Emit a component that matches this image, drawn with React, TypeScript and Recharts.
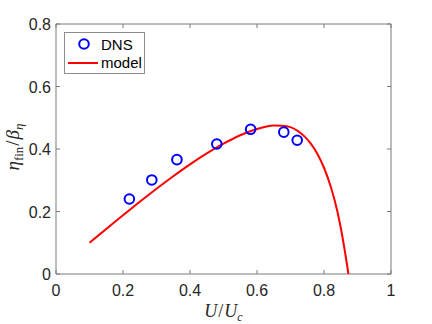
import React from "react";
import {
	ComposedChart,
	Line,
	Scatter,
	XAxis,
	YAxis,
	ReferenceArea,
	Legend,
} from "recharts";

// DNS points
const dnsX = [0.219, 0.286, 0.361, 0.48, 0.581, 0.68, 0.72];
const dnsY = [0.24, 0.301, 0.366, 0.416, 0.463, 0.454, 0.428];

// model curve
const modelX = [
	0.1, 0.15, 0.2, 0.25, 0.3, 0.35, 0.4, 0.45, 0.5, 0.55, 0.6, 0.625, 0.65,
	0.675, 0.7, 0.72, 0.74, 0.76, 0.78, 0.8, 0.82, 0.84, 0.85, 0.86, 0.873,
];
const modelY = [
	0.1, 0.144, 0.188, 0.231, 0.273, 0.313, 0.351, 0.386, 0.417, 0.444, 0.464,
	0.471, 0.475, 0.4745, 0.47, 0.459, 0.442, 0.418, 0.385, 0.34, 0.28, 0.2,
	0.148, 0.088, 0,
];

const xTicks = [0, 0.2, 0.4, 0.6, 0.8, 1];
const yTicks = [0, 0.2, 0.4, 0.6, 0.8];

const dnsData = dnsX.map((x, i) => ({ x, y: dnsY[i] }));
const modelData = modelX.map((x, i) => ({ x, y: modelY[i] }));

const W = 432;
const H = 324;
const LEFT = 56;
const RIGHT = 391;
const TOP = 24;
const BOTTOM = 274;
const AXIS = "#7a7a7a";
const TEXT = "#262626";
const TICK_FONT = "'Liberation Sans', Arial, sans-serif";
const MATH_FONT = "'Liberation Serif', 'DejaVu Serif', serif";

const XTick = (props: any) => {
	const { x, payload } = props;
	return (
		<g>
			<line x1={x} x2={x} y1={BOTTOM} y2={BOTTOM - 4} stroke={AXIS} />
			<line x1={x} x2={x} y1={TOP} y2={TOP + 4} stroke={AXIS} />
			<text
				x={x}
				y={296}
				textAnchor="middle"
				fontFamily={TICK_FONT}
				fontSize={16}
				fill={TEXT}
			>
				{payload.value}
			</text>
		</g>
	);
};

const YTick = (props: any) => {
	const { y, payload } = props;
	return (
		<g>
			<line x1={LEFT} x2={LEFT + 4} y1={y} y2={y} stroke={AXIS} />
			<line x1={RIGHT} x2={RIGHT - 4} y1={y} y2={y} stroke={AXIS} />
			<text
				x={51}
				y={y + 6}
				textAnchor="end"
				fontFamily={TICK_FONT}
				fontSize={16}
				fill={TEXT}
			>
				{payload.value}
			</text>
		</g>
	);
};

const XLabel = () => (
	<text
		x={(LEFT + RIGHT) / 2}
		y={317}
		textAnchor="middle"
		fontFamily={MATH_FONT}
		fontSize={18}
		fill={TEXT}
	>
		<tspan fontStyle="italic">U</tspan>
		<tspan dx={1}>/</tspan>
		<tspan fontStyle="italic" dx={1}>U</tspan>
		<tspan fontStyle="italic" fontSize={12} dy={4}>
			c
		</tspan>
	</text>
);

const YLabel = () => (
	<text
		transform={`translate(19,${(TOP + BOTTOM) / 2 - 2}) rotate(-90)`}
		textAnchor="middle"
		fontFamily={MATH_FONT}
		fontSize={19}
		fill={TEXT}
	>
		<tspan fontStyle="italic">η</tspan>
		<tspan fontSize={13} dy={4} style={{ fontVariantLigatures: "none" }}>
			fin
		</tspan>
		<tspan dy={-4} dx={1}>/</tspan>
		<tspan fontStyle="italic" dx={1}>β</tspan>
		<tspan fontStyle="italic" fontSize={13} dy={4}>
			η
		</tspan>
	</text>
);

const Ring = (props: any) => {
	const { cx, cy } = props;
	return <circle cx={cx} cy={cy} r={4.8} fill="none" stroke="#0000ff" strokeWidth={2} />;
};

const LegendBox = () => (
	<div
		style={{
			width: 81,
			height: 42,
			boxSizing: "border-box",
			border: "1px solid #8c8c8c",
			background: "#fff",
		}}
	>
		<svg width={79} height={40} style={{ display: "block" }}>
			<circle cx={19} cy={11} r={4.8} fill="none" stroke="#0000ff" strokeWidth={2} />
			<text x={36} y={17} fontFamily={TICK_FONT} fontSize={15} fill="#000">
				DNS
			</text>
			<line x1={3} x2={33} y1={30} y2={30} stroke="#ff0000" strokeWidth={2} />
			<text x={36} y={35} fontFamily={TICK_FONT} fontSize={15} fill="#000">
				model
			</text>
		</svg>
	</div>
);

export default function App() {
	return (
		<div style={{ position: "absolute", left: 0, top: 0, width: W, height: H, background: "#fff" }}>
			<ComposedChart
				width={W}
				height={H}
				margin={{ top: TOP, right: W - RIGHT, left: 0, bottom: 0 }}
			>
				<XAxis
					dataKey="x"
					type="number"
					domain={[0, 1]}
					ticks={xTicks}
					axisLine={false}
					tickLine={false}
					tick={<XTick />}
					height={H - BOTTOM}
					label={<XLabel />}
					allowDataOverflow
				/>
				<YAxis
					type="number"
					domain={[0, 0.8]}
					ticks={yTicks}
					axisLine={false}
					tickLine={false}
					tick={<YTick />}
					width={LEFT}
					label={<YLabel />}
					allowDataOverflow
				/>
				<ReferenceArea
					x1={0}
					x2={1}
					y1={0}
					y2={0.8}
					fill="none"
					stroke={AXIS}
					strokeWidth={1}
				/>
				<Legend
					layout="horizontal"
					verticalAlign="middle"
					content={<LegendBox />}
					wrapperStyle={{ left: 64, top: 32, width: 81, height: 42 }}
				/>
				<Line
					data={modelData}
					dataKey="y"
					type="monotone"
					stroke="#ff0000"
					strokeWidth={2}
					dot={false}
					isAnimationActive={false}
				/>
				<Scatter
					data={dnsData}
					dataKey="y"
					shape={<Ring />}
					isAnimationActive={false}
				/>
			</ComposedChart>
		</div>
	);
}
